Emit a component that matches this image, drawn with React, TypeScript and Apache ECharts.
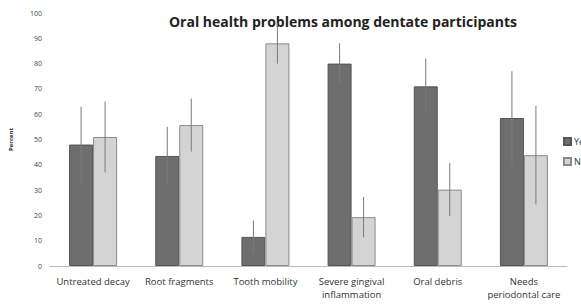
import React, { useEffect, useRef } from "react";
import * as echarts from "echarts";

const categories = [
  "Untreated decay",
  "Root fragments",
  "Tooth mobility",
  "Severe gingival\ninflammation",
  "Oral debris",
  "Needs\nperiodontal care",
];
const yesValues = [48, 43.5, 11.5, 80, 71, 58.5];
const noValues = [51, 55.7, 88, 19.3, 30.2, 43.8];
const yesErr = [15, 11.5, 6.5, 8, 11, 18.5];
const noErr = [14, 10.5, 8, 8, 10.5, 19.5];
const yTicks = [0, 10, 20, 30, 40, 50, 60, 70, 80, 90, 100];

export default function App() {
  const ref = useRef<HTMLDivElement>(null);
  useEffect(() => {
    if (!ref.current) return;
    const chart = echarts.init(ref.current, null, { renderer: "svg" });
    const errData: number[][] = [];
    categories.forEach((_, i) => {
      errData.push([i, yesValues[i] - yesErr[i], yesValues[i] + yesErr[i], -1]);
      errData.push([i, noValues[i] - noErr[i], noValues[i] + noErr[i], 1]);
    });
    chart.setOption({
      animation: false,
      backgroundColor: "#ffffff",
      title: {
        text: "Oral health problems among dentate participants",
        left: 338,
        textAlign: "center",
        top: 9,
        textStyle: {
          fontFamily: "Open Sans",
          fontWeight: "bold",
          fontSize: 14,
          color: "#222",
        },
      },
      legend: {
        orient: "vertical",
        left: 563,
        top: 137,
        padding: 0,
        icon: "rect",
        itemWidth: 7,
        itemHeight: 7,
        itemGap: 11,
        textStyle: { fontFamily: "Open Sans", fontSize: 9, color: "#333", padding: [0, 0, 0, -2] },
        data: ["Yes", "No"],
      },
      grid: { left: 48, right: 14, top: 13, bottom: 39 },
      xAxis: {
        type: "category",
        data: categories,
        axisLine: { lineStyle: { color: "#bbb" } },
        axisTick: { show: false },
        axisLabel: {
          fontFamily: "Open Sans",
          fontSize: 9.5,
          color: "#333",
          lineHeight: 13,
          margin: 9,
          interval: 0,
        },
      },
      yAxis: {
        type: "value",
        min: 0,
        max: 100,
        interval: 10,
        name: "Percent",
        nameLocation: "middle",
        nameGap: 36,
        nameTextStyle: { fontFamily: "Open Sans", fontSize: 6, color: "#333", fontWeight: "bold" },
        axisLine: { show: false },
        axisTick: { show: false },
        splitLine: { show: false },
        axisLabel: {
          fontFamily: "Open Sans",
          fontSize: 7,
          color: "#444",
          margin: 8,
          formatter: (v: number) => (yTicks.includes(v) ? String(v) : ""),
        },
      },
      series: [
        {
          name: "Yes",
          type: "bar",
          data: yesValues,
          barWidth: 24,
          barGap: "0%",
          itemStyle: { color: "#6e6e6e", borderColor: "#555", borderWidth: 1 },
        },
        {
          name: "No",
          type: "bar",
          data: noValues,
          barWidth: 24,
          itemStyle: { color: "#d4d4d4", borderColor: "#8a8a8a", borderWidth: 1 },
        },
        {
          type: "custom",
          name: "err",
          data: errData,
          z: 10,
          renderItem: (params: any, api: any) => {
            const i = api.value(0);
            const lo = api.coord([i, api.value(1)]);
            const hi = api.coord([i, api.value(2)]);
            const off = api.value(3) * 12;
            const x = lo[0] + off;
            return {
              type: "line",
              shape: { x1: x, y1: lo[1], x2: x, y2: hi[1] },
              style: { stroke: "#7a7a7a", lineWidth: 1 },
            };
          },
          encode: { x: 0, y: [1, 2] },
        },
      ],
    });
    return () => chart.dispose();
  }, []);
  return <div ref={ref} style={{ width: 581, height: 305, position: "absolute", left: 0, top: 0 }} />;
}
